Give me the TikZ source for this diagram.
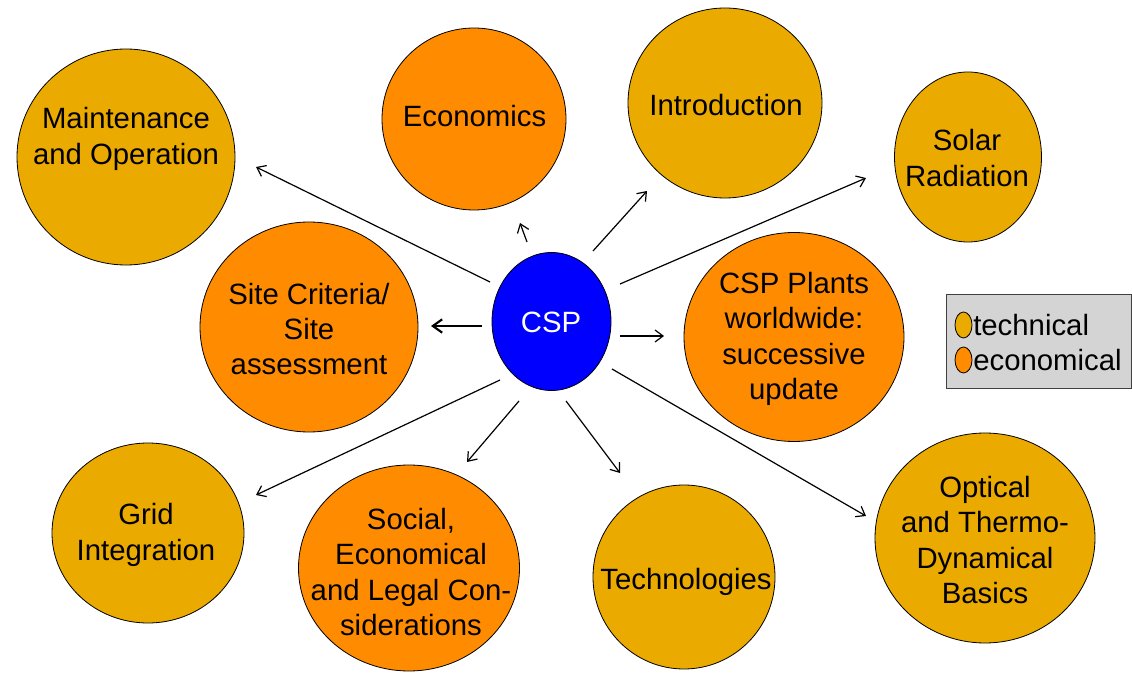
\documentclass[tikz,border=0pt]{standalone}
\usepackage{fontspec}
\setmainfont{Liberation Sans}
\usetikzlibrary{shapes.geometric,arrows.meta}
\definecolor{techc}{RGB}{235,170,0}
\definecolor{econc}{RGB}{255,140,0}
\definecolor{cspc}{RGB}{0,0,255}
\definecolor{legc}{RGB}{212,212,212}
\begin{document}
\begin{tikzpicture}[x=0.75pt,y=-0.75pt,
  bub/.style 2 args={ellipse, draw=black, line width=0.6pt, minimum width=#1*0.75pt, minimum height=#2*0.75pt, inner sep=0pt},
  tech/.style={fill=techc},
  econ/.style={fill=econc},
  lbl/.style={align=center, font=\fontsize{22}{26.5}\selectfont, inner sep=0pt},
  arr/.style={line width=0.9pt, -{Straight Barb[length=6pt,width=9pt]}},
  arrbig/.style={line width=1.6pt, -{Straight Barb[length=7pt,width=10pt]}},
]
\path[use as bounding box] (0,0) rectangle (1132,673);
% bubbles
\node[bub={218}{216}, tech] (main) at (126,157) {};
\node[lbl] (mainT) at (126,139) {Maintenance\\and Operation};
\node[bub={184}{182}, econ] (econ) at (474,119) {};
\node[lbl] (econT) at (474.5,116) {Economics};
\node[bub={194}{190}, tech] (intro) at (725,103) {};
\node[lbl] (introT) at (726,105) {Introduction};
\node[bub={147}{170}, tech] (solar) at (968,157) {};
\node[lbl] (solarT) at (967,158) {Solar\\Radiation};
\node[bub={218}{210}, econ] (site) at (309,327) {};
\node[lbl] (siteT) at (309,329) {Site Criteria/\\Site\\assessment};
\node[bub={119}{138}, fill=cspc] (csp) at (551.5,321.5) {};
\node[lbl, text=white] (cspT) at (551,322) {CSP};
\node[bub={220}{209}, econ] (plants) at (794,337) {};
\node[lbl] (plantsT) at (794,339) {CSP Plants\\worldwide:\\successive\\update};
\node[bub={192}{180}, tech] (grid) at (148,533) {};
\node[lbl] (gridT) at (146,535) {Grid\\Integration};
\node[bub={221}{206}, econ] (social) at (409,568) {};
\node[lbl] (socialT) at (411,572) {Social,\\Economical\\and Legal Con-\\siderations};
\node[bub={182}{184}, tech] (techn) at (684,577) {};
\node[lbl] (technT) at (686,582) {Technologies};
\node[bub={220}{210}, tech] (optic) at (985,538) {};
\node[lbl] (opticT) at (985,540) {Optical\\and Thermo-\\Dynamical\\Basics};
% arrow end points
\coordinate (m0) at (490,282); \coordinate (m1) at (256,167);
\coordinate (e0) at (527,242); \coordinate (e1) at (520,223);
\coordinate (i0) at (593,251); \coordinate (i1) at (647,191);
\coordinate (s0) at (620,284); \coordinate (s1) at (866,178);
\coordinate (c0) at (482,326); \coordinate (c1) at (431,326);
\coordinate (p0) at (620,336); \coordinate (p1) at (664,336);
\coordinate (g0) at (500,380); \coordinate (g1) at (256,495);
\coordinate (o0) at (519,401); \coordinate (o1) at (467,462);
\coordinate (t0) at (566,401); \coordinate (t1) at (620,473);
\coordinate (d0) at (612,369); \coordinate (d1) at (866,516);
\draw[arr] (m0) -- (m1);
\draw[arr] (e0) -- (e1);
\draw[arr] (i0) -- (i1);
\draw[arr] (s0) -- (s1);
\draw[arrbig] (c0) -- (c1);
\draw[arr] (p0) -- (p1);
\draw[arr] (g0) -- (g1);
\draw[arr] (o0) -- (o1);
\draw[arr] (t0) -- (t1);
\draw[arr] (d0) -- (d1);
% legend
\node[rectangle, draw=black!75, line width=0.8pt, fill=legc, minimum width=185*0.75pt, minimum height=94*0.75pt, anchor=north west, inner sep=0pt] (legend) at (945.5,294) {};
\node[ellipse, draw=black, line width=0.6pt, fill=techc, minimum width=17*0.75pt, minimum height=26*0.75pt, inner sep=0pt] (ltech) at (963.5,325) {};
\node[ellipse, draw=black, line width=0.6pt, fill=econc, minimum width=17*0.75pt, minimum height=26*0.75pt, inner sep=0pt] (lecon) at (963.5,360) {};
\node[lbl, anchor=west] (ltechT) at (973,325) {technical};
\node[lbl, anchor=west] (leconT) at (973,360) {economical};
\end{tikzpicture}
\end{document}
